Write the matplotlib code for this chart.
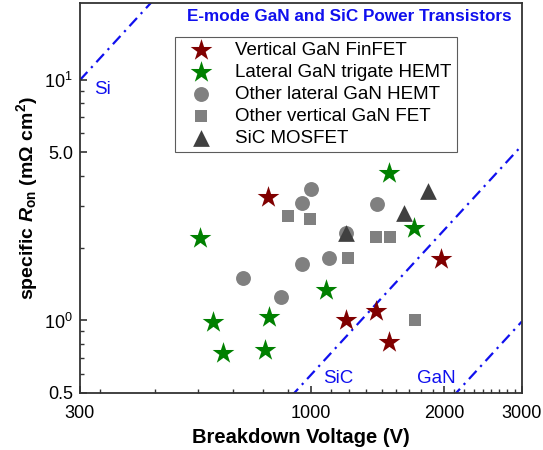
import numpy as np
import matplotlib
matplotlib.use('Agg')
import matplotlib.pyplot as plt
from matplotlib.ticker import FixedLocator, FixedFormatter, NullFormatter

plt.rcParams['font.family'] = ['Liberation Sans', 'DejaVu Sans']
plt.rcParams['mathtext.fontset'] = 'custom'
plt.rcParams['mathtext.rm'] = 'Liberation Sans'
plt.rcParams['mathtext.it'] = 'Liberation Sans:italic'
plt.rcParams['mathtext.bf'] = 'Liberation Sans:bold'
plt.rcParams['mathtext.bfit'] = 'Liberation Sans:bold:italic'

# breakdown voltage (V) and specific Ron (mOhm cm2)
finfet_v = [800, 1200, 1405, 1503, 1973]
finfet_r = [3.27, 1.0, 1.10, 0.81, 1.80]

trigate_v = [562, 599, 631, 802, 789, 1081, 1707, 1503]
trigate_r = [2.20, 0.99, 0.73, 1.03, 0.756, 1.34, 2.43, 4.09]

lat_hemt_v = [701, 854, 954, 1098, 1000, 954, 1413, 1200]
lat_hemt_r = [1.50, 1.25, 1.72, 1.82, 3.53, 3.09, 3.06, 2.31]

vert_fet_v = [888, 994, 1213, 1405, 1510, 1716]
vert_fet_r = [2.72, 2.64, 1.82, 2.22, 2.22, 1.0]

sic_mos_v = [1836, 1625, 1200]
sic_mos_r = [3.46, 2.80, 2.31]

# material limits, Ron = k * BV^2
limit_k = {'Si': 1.111e-4, 'SiC': 5.94e-7, 'GaN': 1.10e-7}

fig = plt.figure(figsize=(5.43, 4.5), dpi=100)
ax = fig.add_axes([0.147, 0.127, 0.814, 0.867])
ax.set_xscale('log')
ax.set_yscale('log')
ax.set_xlim(300, 3000)
ax.set_ylim(0.5, 21)

blue = '#1010ee'
vv = np.logspace(np.log10(300), np.log10(3000), 200)
for name, k in limit_k.items():
    ax.plot(vv, k * vv**2, color=blue, lw=1.6, dashes=(5, 2.5, 1, 2.5), zorder=1)

ax.text(338, 9.1, 'Si', color=blue, fontsize=13.5, ha='center', va='center')
ax.text(1150, 0.575, 'SiC', color=blue, fontsize=13.5, ha='center', va='center')
ax.text(1920, 0.575, 'GaN', color=blue, fontsize=13.5, ha='center', va='center')
ax.text(0.609, 0.985, 'E-mode GaN and SiC Power Transistors', transform=ax.transAxes,
        color=blue, fontsize=12.3, fontweight='bold', ha='center', va='top')

ax.scatter(finfet_v, finfet_r, marker='*', s=270, color='#800000', label='Vertical GaN FinFET', zorder=3, lw=0)
ax.scatter(trigate_v, trigate_r, marker='*', s=270, color='#008000', label='Lateral GaN trigate HEMT', zorder=3, lw=0)
ax.scatter(lat_hemt_v, lat_hemt_r, marker='o', s=115, color='#808080', label='Other lateral GaN HEMT', zorder=2, lw=0)
ax.scatter(vert_fet_v, vert_fet_r, marker='s', s=85, color='#808080', label='Other vertical GaN FET', zorder=2, lw=0)
ax.scatter(sic_mos_v, sic_mos_r, marker='^', s=145, color='#404040', label='SiC MOSFET', zorder=3, lw=0)

leg = ax.legend(loc='upper left', bbox_to_anchor=(0.215, 0.913), borderaxespad=0,
                fontsize=13.5, frameon=True, fancybox=False, edgecolor='#333333',
                labelspacing=0.25, handletextpad=0.7, borderpad=0.3, handlelength=2.2)
leg.get_frame().set_linewidth(0.8)

ax.xaxis.set_major_locator(FixedLocator([300, 1000, 2000, 3000]))
ax.xaxis.set_major_formatter(FixedFormatter(['300', '1000', '2000', '3000']))
ax.xaxis.set_minor_locator(FixedLocator([1000 * i / 9 for i in range(3, 27)]))
ax.xaxis.set_minor_formatter(NullFormatter())

ax.yaxis.set_major_locator(FixedLocator([0.5, 1, 5, 10]))
ax.yaxis.set_major_formatter(FixedFormatter(['0.5', '$10^0$', '5.0', '$10^1$']))
ax.yaxis.set_minor_locator(FixedLocator([0.6, 0.7, 0.8, 0.9, 2, 3, 4, 6, 7, 8, 9]))
ax.yaxis.set_minor_formatter(NullFormatter())

ax.tick_params(which='both', direction='in', labelsize=13, color='#333333')
ax.tick_params(axis='x', which='both', pad=9)
ax.tick_params(axis='y', which='both', pad=5)
ax.tick_params(which='major', length=5, width=1.2)
ax.tick_params(which='minor', length=3, width=1)
for sp in ax.spines.values():
    sp.set_linewidth(1.3)
    sp.set_color('#333333')

ax.set_xlabel('Breakdown Voltage (V)', fontsize=14.5, fontweight='bold', labelpad=4)
ax.set_ylabel(r'specific $\boldsymbol{R}_{\mathbf{on}}$ (m$\mathbf{\Omega}$ cm$^\mathbf{2}$)', fontsize=14,
              fontweight='bold', labelpad=3)

fig.savefig('out.png', dpi=100)
